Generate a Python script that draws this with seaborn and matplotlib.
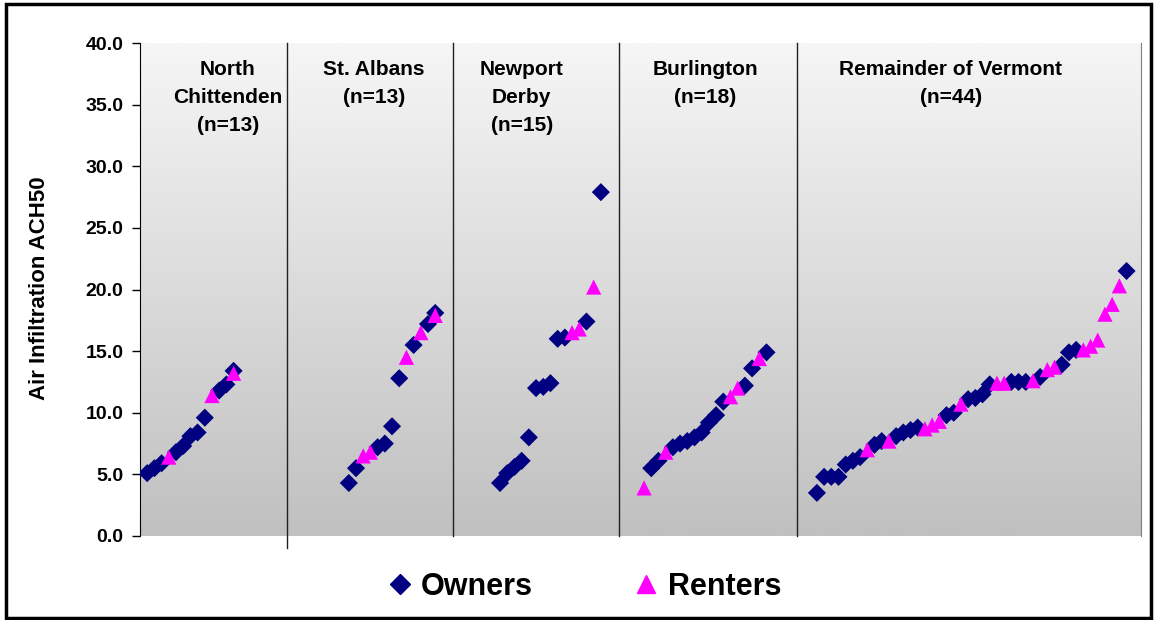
import numpy as np
import pandas as pd
import seaborn as sns
import matplotlib.pyplot as plt
from matplotlib.colors import LinearSegmentedColormap
from matplotlib.patches import Rectangle

# Valori (ordinati per regione), O = Owners, R = Renters
regioni = ["North\nChittenden\n(n=13)", "St. Albans\n(n=13)", "Newport\nDerby\n(n=15)",
           "Burlington\n(n=18)", "Remainder of Vermont\n(n=44)"]

nc_vals = [5.1, 5.5, 5.9, 6.4, 6.8, 7.3, 8.1, 8.4, 9.6, 11.4, 11.8, 12.3, 13.4, 13.2]
nc_tipo = ["O", "O", "O", "R", "O", "O", "O", "O", "O", "R", "O", "O", "O", "R"]

sa_vals = [4.3, 5.5, 6.5, 6.8, 7.2, 7.5, 8.9, 12.8, 14.5, 15.5, 16.5, 17.2, 18.1, 17.9]
sa_tipo = ["O", "O", "R", "R", "O", "O", "O", "O", "R", "O", "R", "O", "O", "R"]

nd_vals = [4.3, 5.1, 5.6, 6.1, 8.0, 12.0, 12.1, 12.4, 16.0, 16.1, 16.5, 16.8, 17.4, 20.2, 27.9]
nd_tipo = ["O", "O", "O", "O", "O", "O", "O", "O", "O", "O", "R", "R", "O", "R", "O"]

bu_vals = [3.9, 5.5, 6.1, 6.8, 7.2, 7.5, 7.7, 8.0, 8.4, 9.2, 9.8, 10.9, 11.3, 12.0, 12.2, 13.6, 14.4, 14.9]
bu_tipo = ["R", "O", "O", "R", "O", "O", "O", "O", "O", "O", "O", "O", "R", "R", "O", "O", "R", "O"]

rv_vals = [3.5, 4.8, 4.8, 4.8, 5.8, 6.1, 6.4, 7.0, 7.4, 7.7, 7.7, 8.1, 8.4, 8.6, 8.8, 8.7,
           9.0, 9.3, 9.8, 10.0, 10.7, 11.1, 11.2, 11.5, 12.3, 12.4, 12.4, 12.5, 12.5, 12.5,
           12.6, 12.9, 13.5, 13.7, 13.9, 14.9, 15.1, 15.1, 15.4, 15.9, 18.0, 18.8, 20.3, 21.5]
rv_tipo = ["O", "O", "O", "O", "O", "O", "O", "R", "O", "O", "R", "O", "O", "O", "O", "R",
           "R", "R", "O", "O", "R", "O", "O", "O", "O", "R", "R", "O", "O", "O",
           "R", "O", "R", "R", "O", "O", "O", "R", "R", "R", "R", "R", "R", "O"]

# posizione del primo punto di ogni regione sull'asse x (indice)
inizi = [1, 29, 50, 70, 94]
divisori = [20.4, 43.5, 66.5, 91.25]
centri_etichette = [12.2, 32.5, 53.0, 78.5, 112.6]

righe = []
for start, vals, tipi in zip(inizi, [nc_vals, sa_vals, nd_vals, bu_vals, rv_vals],
                             [nc_tipo, sa_tipo, nd_tipo, bu_tipo, rv_tipo]):
    n = len(vals)
    for i, (v, t) in enumerate(zip(vals, tipi)):
        # nelle prime due regioni l'ultimo owner e l'ultimo renter si sovrappongono
        pos = i if n != 14 else min(i, n - 2)
        righe.append({"x": start + pos, "ach50": v,
                      "tipo": "Owners" if t == "O" else "Renters"})
df = pd.DataFrame(righe)
df = df.sort_values("tipo", kind="stable")

fig = plt.figure(figsize=(11.54, 6.2), dpi=100)
ax = fig.add_axes([0.1213, 0.1355, 0.8674, 0.7951])

# sfondo sfumato
cmap = LinearSegmentedColormap.from_list("grigio", ["#c0c0c0", "#f6f6f6"])
ax.imshow(np.linspace(0, 1, 256)[:, None], extent=[0, 139, 0, 40], aspect="auto",
          cmap=cmap, origin="lower", zorder=0)

sns.scatterplot(data=df, x="x", y="ach50", hue="tipo", style="tipo",
                palette={"Owners": "#000080", "Renters": "#ff00ff"},
                markers={"Owners": "D", "Renters": "^"},
                size="tipo", sizes={"Owners": 85, "Renters": 120},
                linewidth=0, ax=ax, legend=False, zorder=3)

for i, d in enumerate(divisori):
    ax.plot([d, d], [-0.97 if i == 0 else 0, 40], color="#202020", lw=1,
            clip_on=False, zorder=2)

for cx, lab in zip(centri_etichette, regioni):
    ax.text(cx, 38.65, lab, ha="center", va="top", fontsize=15, fontweight="bold",
            family="Liberation Sans", linespacing=1.6, zorder=4)

ax.set_xlim(0, 139)
ax.set_ylim(0, 40)
ax.set_yticks(np.arange(0, 40.1, 5))
ax.set_yticklabels([f"{v:.1f}" for v in np.arange(0, 40.1, 5)],
                   fontsize=14, fontweight="bold", family="Liberation Sans")
ax.set_xticks([])
ax.set_xlabel("")
ax.set_ylabel("")
ax.tick_params(axis="y", length=6, width=1, color="black", pad=6)
ax.spines["top"].set_visible(False)
ax.spines["bottom"].set_visible(False)
ax.spines["left"].set_color("black")
ax.spines["right"].set_color("#808080")

fig.text(40 / 1154, 1 - 288 / 620, "Air Infiltration ACH50", rotation=90,
         ha="center", va="center", fontsize=16, fontweight="bold",
         family="Liberation Sans")

# legenda
h1 = plt.Line2D([], [], marker="D", color="#000080", linestyle="none", markersize=10)
h2 = plt.Line2D([], [], marker="^", color="#ff00ff", linestyle="none", markersize=13)
fig.legend([h1, h2], ["Owners", "Renters"], loc="center", bbox_to_anchor=(0.505, 0.054),
           ncol=2, frameon=False, columnspacing=3.2, handlelength=1.0, handletextpad=0.2,
           prop={"family": "Liberation Sans", "weight": "bold", "size": 22})

# cornice esterna
fig.patches.append(Rectangle((0.005, 0.003), 0.992, 0.99, transform=fig.transFigure,
                             fill=False, edgecolor="black", lw=2.5))

fig.savefig("out.png", dpi=100)
